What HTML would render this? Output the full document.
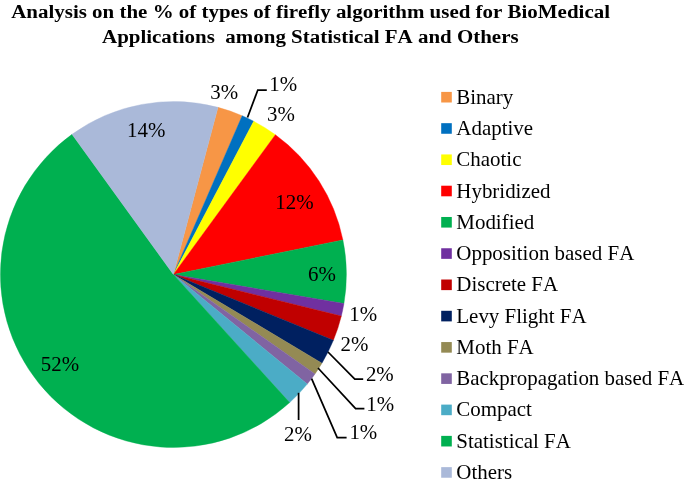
<!DOCTYPE html>
<html><head><meta charset="utf-8"><title>Firefly algorithm pie chart</title>
<style>
html,body{margin:0;padding:0;background:#fff;}
svg{display:block}
text{font-family:"Liberation Serif","Times New Roman",serif;fill:#000;font-kerning:none;}
.tt{font-weight:bold;font-size:19.3px;}
.lg{font-size:20.95px;}
.dl{font-size:20.9px;}
</style></head><body>
<svg width="685" height="485" viewBox="0 0 685 485">
<rect width="685" height="485" fill="#fff"/>
<text x="11.2" y="18" class="tt" textLength="598.8" lengthAdjust="spacingAndGlyphs">Analysis on the % of types of firefly algorithm used for BioMedical</text>
<text x="102.0" y="42.6" class="tt" textLength="416.6" lengthAdjust="spacingAndGlyphs" xml:space="preserve">Applications  among Statistical FA and Others</text>
<g>
<path d="M173.40,274.50 L218.03,107.36 A173.0,173.0 0 0 1 242.16,115.75 Z" fill="#F79646" stroke="#F79646" stroke-width="0.4"/>
<path d="M173.40,274.50 L242.16,115.75 A173.0,173.0 0 0 1 253.70,121.27 Z" fill="#0070C0" stroke="#0070C0" stroke-width="0.4"/>
<path d="M173.40,274.50 L253.70,121.27 A173.0,173.0 0 0 1 275.40,134.76 Z" fill="#FFFF00" stroke="#FFFF00" stroke-width="0.4"/>
<path d="M173.40,274.50 L275.40,134.76 A173.0,173.0 0 0 1 342.91,239.95 Z" fill="#FF0000" stroke="#FF0000" stroke-width="0.4"/>
<path d="M173.40,274.50 L342.91,239.95 A173.0,173.0 0 0 1 343.95,303.52 Z" fill="#00B050" stroke="#00B050" stroke-width="0.4"/>
<path d="M173.40,274.50 L343.95,303.52 A173.0,173.0 0 0 1 341.34,316.03 Z" fill="#7030A0" stroke="#7030A0" stroke-width="0.4"/>
<path d="M173.40,274.50 L341.34,316.03 A173.0,173.0 0 0 1 333.39,340.32 Z" fill="#C00000" stroke="#C00000" stroke-width="0.4"/>
<path d="M173.40,274.50 L333.39,340.32 A173.0,173.0 0 0 1 321.95,363.17 Z" fill="#002060" stroke="#002060" stroke-width="0.4"/>
<path d="M173.40,274.50 L321.95,363.17 A173.0,173.0 0 0 1 315.00,373.90 Z" fill="#948A54" stroke="#948A54" stroke-width="0.4"/>
<path d="M173.40,274.50 L315.00,373.90 A173.0,173.0 0 0 1 307.27,384.08 Z" fill="#8064A2" stroke="#8064A2" stroke-width="0.4"/>
<path d="M173.40,274.50 L307.27,384.08 A173.0,173.0 0 0 1 289.67,402.61 Z" fill="#4BACC6" stroke="#4BACC6" stroke-width="0.4"/>
<path d="M173.40,274.50 L289.67,402.61 A173.0,173.0 0 1 1 72.02,134.32 Z" fill="#00B050" stroke="#00B050" stroke-width="0.4"/>
<path d="M173.40,274.50 L72.02,134.32 A173.0,173.0 0 0 1 218.03,107.36 Z" fill="#AAB9D9" stroke="#AAB9D9" stroke-width="0.4"/>
</g>
<g>
<path d="M247.5,117.5 L257.8,90 L266.8,90" fill="none" stroke="#000" stroke-width="1.75"/>
<path d="M328,352 L354.8,379 L363.2,379" fill="none" stroke="#000" stroke-width="1.75"/>
<path d="M318,368 L355.6,408.5 L364.4,408.5" fill="none" stroke="#000" stroke-width="1.75"/>
<path d="M311.6,378.6 L337.2,437.5 L346.6,437.5" fill="none" stroke="#000" stroke-width="1.75"/>
<path d="M298.6,392.8 L298.6,420" fill="none" stroke="#000" stroke-width="1.75"/>
</g>
<g>
<text x="210.2" y="99.4" class="dl">3%</text>
<text x="269.3" y="91.4" class="dl">1%</text>
<text x="267" y="120.9" class="dl">3%</text>
<text x="275.3" y="209.3" class="dl">12%</text>
<text x="308" y="281" class="dl">6%</text>
<text x="349.2" y="321" class="dl">1%</text>
<text x="340.5" y="351.1" class="dl">2%</text>
<text x="365.9" y="381" class="dl">2%</text>
<text x="366.2" y="411.2" class="dl">1%</text>
<text x="349.4" y="439.4" class="dl">1%</text>
<text x="284" y="441.4" class="dl">2%</text>
<text x="40.8" y="370.5" class="dl">52%</text>
<text x="127" y="137.1" class="dl">14%</text>
</g>
<g>
<rect x="441.2" y="91.90" width="10.6" height="10.6" fill="#F79646"/>
<text x="456.3" y="103.70" class="lg">Binary</text>
<rect x="441.2" y="123.17" width="10.6" height="10.6" fill="#0070C0"/>
<text x="456.3" y="134.97" class="lg">Adaptive</text>
<rect x="441.2" y="154.44" width="10.6" height="10.6" fill="#FFFF00"/>
<text x="456.3" y="166.24" class="lg">Chaotic</text>
<rect x="441.2" y="185.71" width="10.6" height="10.6" fill="#FF0000"/>
<text x="456.3" y="197.51" class="lg">Hybridized</text>
<rect x="441.2" y="216.98" width="10.6" height="10.6" fill="#00B050"/>
<text x="456.3" y="228.78" class="lg">Modified</text>
<rect x="441.2" y="248.25" width="10.6" height="10.6" fill="#7030A0"/>
<text x="456.3" y="260.05" class="lg">Opposition based FA</text>
<rect x="441.2" y="279.52" width="10.6" height="10.6" fill="#C00000"/>
<text x="456.3" y="291.32" class="lg">Discrete FA</text>
<rect x="441.2" y="310.79" width="10.6" height="10.6" fill="#002060"/>
<text x="456.3" y="322.59" class="lg">Levy Flight FA</text>
<rect x="441.2" y="342.06" width="10.6" height="10.6" fill="#948A54"/>
<text x="456.3" y="353.86" class="lg">Moth FA</text>
<rect x="441.2" y="373.33" width="10.6" height="10.6" fill="#8064A2"/>
<text x="456.3" y="385.13" class="lg">Backpropagation based FA</text>
<rect x="441.2" y="404.60" width="10.6" height="10.6" fill="#4BACC6"/>
<text x="456.3" y="416.40" class="lg">Compact</text>
<rect x="441.2" y="435.87" width="10.6" height="10.6" fill="#00B050"/>
<text x="456.3" y="447.67" class="lg">Statistical FA</text>
<rect x="441.2" y="467.14" width="10.6" height="10.6" fill="#AAB9D9"/>
<text x="456.3" y="478.94" class="lg">Others</text>
</g>
</svg>
</body></html>
